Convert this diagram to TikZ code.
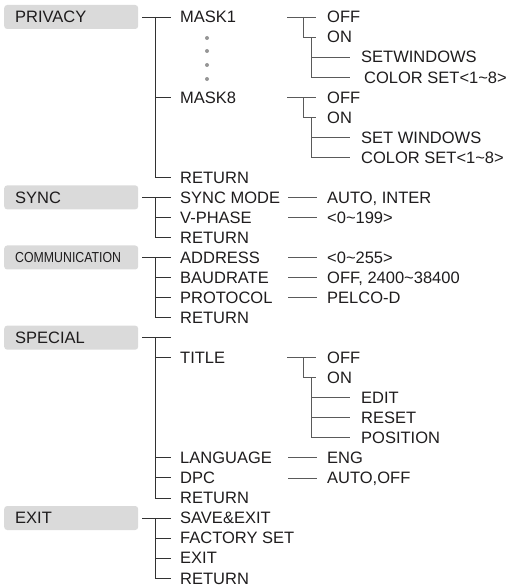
\documentclass[tikz,border=0pt]{standalone}
\usepackage{fontspec}
\setmainfont{Liberation Sans}
\usetikzlibrary{calc}
\definecolor{ink}{RGB}{30,28,29}
\definecolor{boxgray}{RGB}{218,218,218}
\definecolor{trunk}{RGB}{50,50,50}
\definecolor{twig}{RGB}{90,90,90}
\definecolor{dotgray}{RGB}{150,150,150}
\tikzset{
  menu/.style={fill=boxgray, rounded corners=3pt, anchor=west, inner xsep=11pt, inner ysep=0pt, text width=112pt, minimum height=24pt, text height=11.8pt, text depth=0pt, align=left, text=ink},
  item/.style={anchor=west, inner sep=0pt, text height=11.8pt, text depth=0pt, text=ink},
  tree/.style={draw=trunk, line width=0.9pt},
  twig/.style={draw=twig, line width=0.8pt},
  dot/.style={circle, fill=dotgray, inner sep=0pt, minimum size=4pt},
}
\newcommand{\rowy}[1]{17+20.04*(#1)}

\begin{document}
\begin{tikzpicture}[x=1pt, y=-1pt, font=\fontsize{16.5}{18}\selectfont]
  \path[use as bounding box] (0,0) rectangle (515,586);
  % top menu boxes
  \node[menu] (pv) at (4,{\rowy{0}}) {PRIVACY};
  \node[menu] (sy) at (4,{\rowy{9}}) {SYNC};
  \node[menu, text height=10.4pt, font=\fontsize{14.5}{16}\selectfont\addfontfeatures{FakeStretch=0.85}] (cm) at (4,{\rowy{12}}) {COMMUNICATION};
  \node[menu] (sp) at (4,{\rowy{16}}) {SPECIAL};
  \node[menu] (ex) at (4,{\rowy{25}}) {EXIT};
  % first level entries
  \foreach \n/\t/\k in {pv1/MASK1/0, pv8/MASK8/4, pvr/RETURN/8, sy1/SYNC MODE/9, sy2/V-PHASE/10, syr/RETURN/11,
      cm1/ADDRESS/12, cm2/BAUDRATE/13, cm3/PROTOCOL/14, cmr/RETURN/15, sp0//16, sp1/TITLE/17, sp2/LANGUAGE/22,
      sp3/DPC/23, spr/RETURN/24, ex1/SAVE\&EXIT/25, ex2/FACTORY SET/26, ex3/EXIT/27, exr/RETURN/28}
    { \node[item] (\n) at (180,{\rowy{\k}}) {\t}; }
  \foreach \y [count=\i] in {38,51,65,79} { \node[dot] (pvd\i) at (207,\y) {}; }
  \foreach \b/\f/\mids/\l in {pv/pv1/{pv8}/pvr, sy/sy1/{sy2}/syr, cm/cm1/{cm2,cm3}/cmr, sp/sp0/{sp1,sp2,sp3}/spr, ex/ex1/{ex2,ex3}/exr} {
    \coordinate (\b-t) at ([xshift=17pt]\b.east);
    \draw[tree] ([xshift=4pt]\b.east) -- ([xshift=-9pt]\f.west);
    \draw[tree] (\b-t) |- ([xshift=-9pt]\l.west);
    \foreach \m in \mids { \draw[tree] (\b-t |- \m.west) -- ([xshift=-9pt]\m.west); }
  }
  % single values
  \foreach \n/\t/\k in {sy1v/{AUTO, INTER}/9, sy2v/<0\textasciitilde199>/10, cm1v/<0\textasciitilde255>/12,
      cm2v/{OFF, 2400\textasciitilde38400}/13, cm3v/PELCO-D/14, sp2v/ENG/22, sp3v/{AUTO,OFF}/23}
    { \node[item] (\n) at (327,{\rowy{\k}}) {\t}; \draw[twig] ([xshift=-39pt]\n.west) -- ([xshift=-10pt]\n.west); }
  % OFF / ON with sub entries
  \foreach \p/\k/\nl/\subs in {pv1/0/2/{SETWINDOWS,\hspace{3pt}COLOR SET<1\textasciitilde8>},
      pv8/4/2/{SET WINDOWS,COLOR SET<1\textasciitilde8>}, sp1/17/3/{EDIT,RESET,POSITION}} {
    \node[item] (\p-off) at (327,{\rowy{\k}}) {OFF};
    \node[item] (\p-on) at (327,{\rowy{\k+1}}) {ON};
    \foreach \s [count=\i] in \subs { \node[item] (\p-s\i) at (361,{\rowy{\k+1+\i}}) {\s}; }
    \draw[twig] ([xshift=-40pt]\p-off.west) -- ([xshift=-11pt]\p-off.west);
    \draw[twig] ([xshift=-24pt]\p-off.west) |- ([xshift=-11pt]\p-on.west);
    \coordinate (\p-k) at ([xshift=-16pt]\p-on.west);
    \draw[twig] (\p-k) |- ([xshift=-11pt]\p-s\nl.west);
    \foreach \i in {1,...,\nl} { \draw[twig] (\p-k |- \p-s\i.west) -- ([xshift=-11pt]\p-s\i.west); }
  }
\end{tikzpicture}
\end{document}
